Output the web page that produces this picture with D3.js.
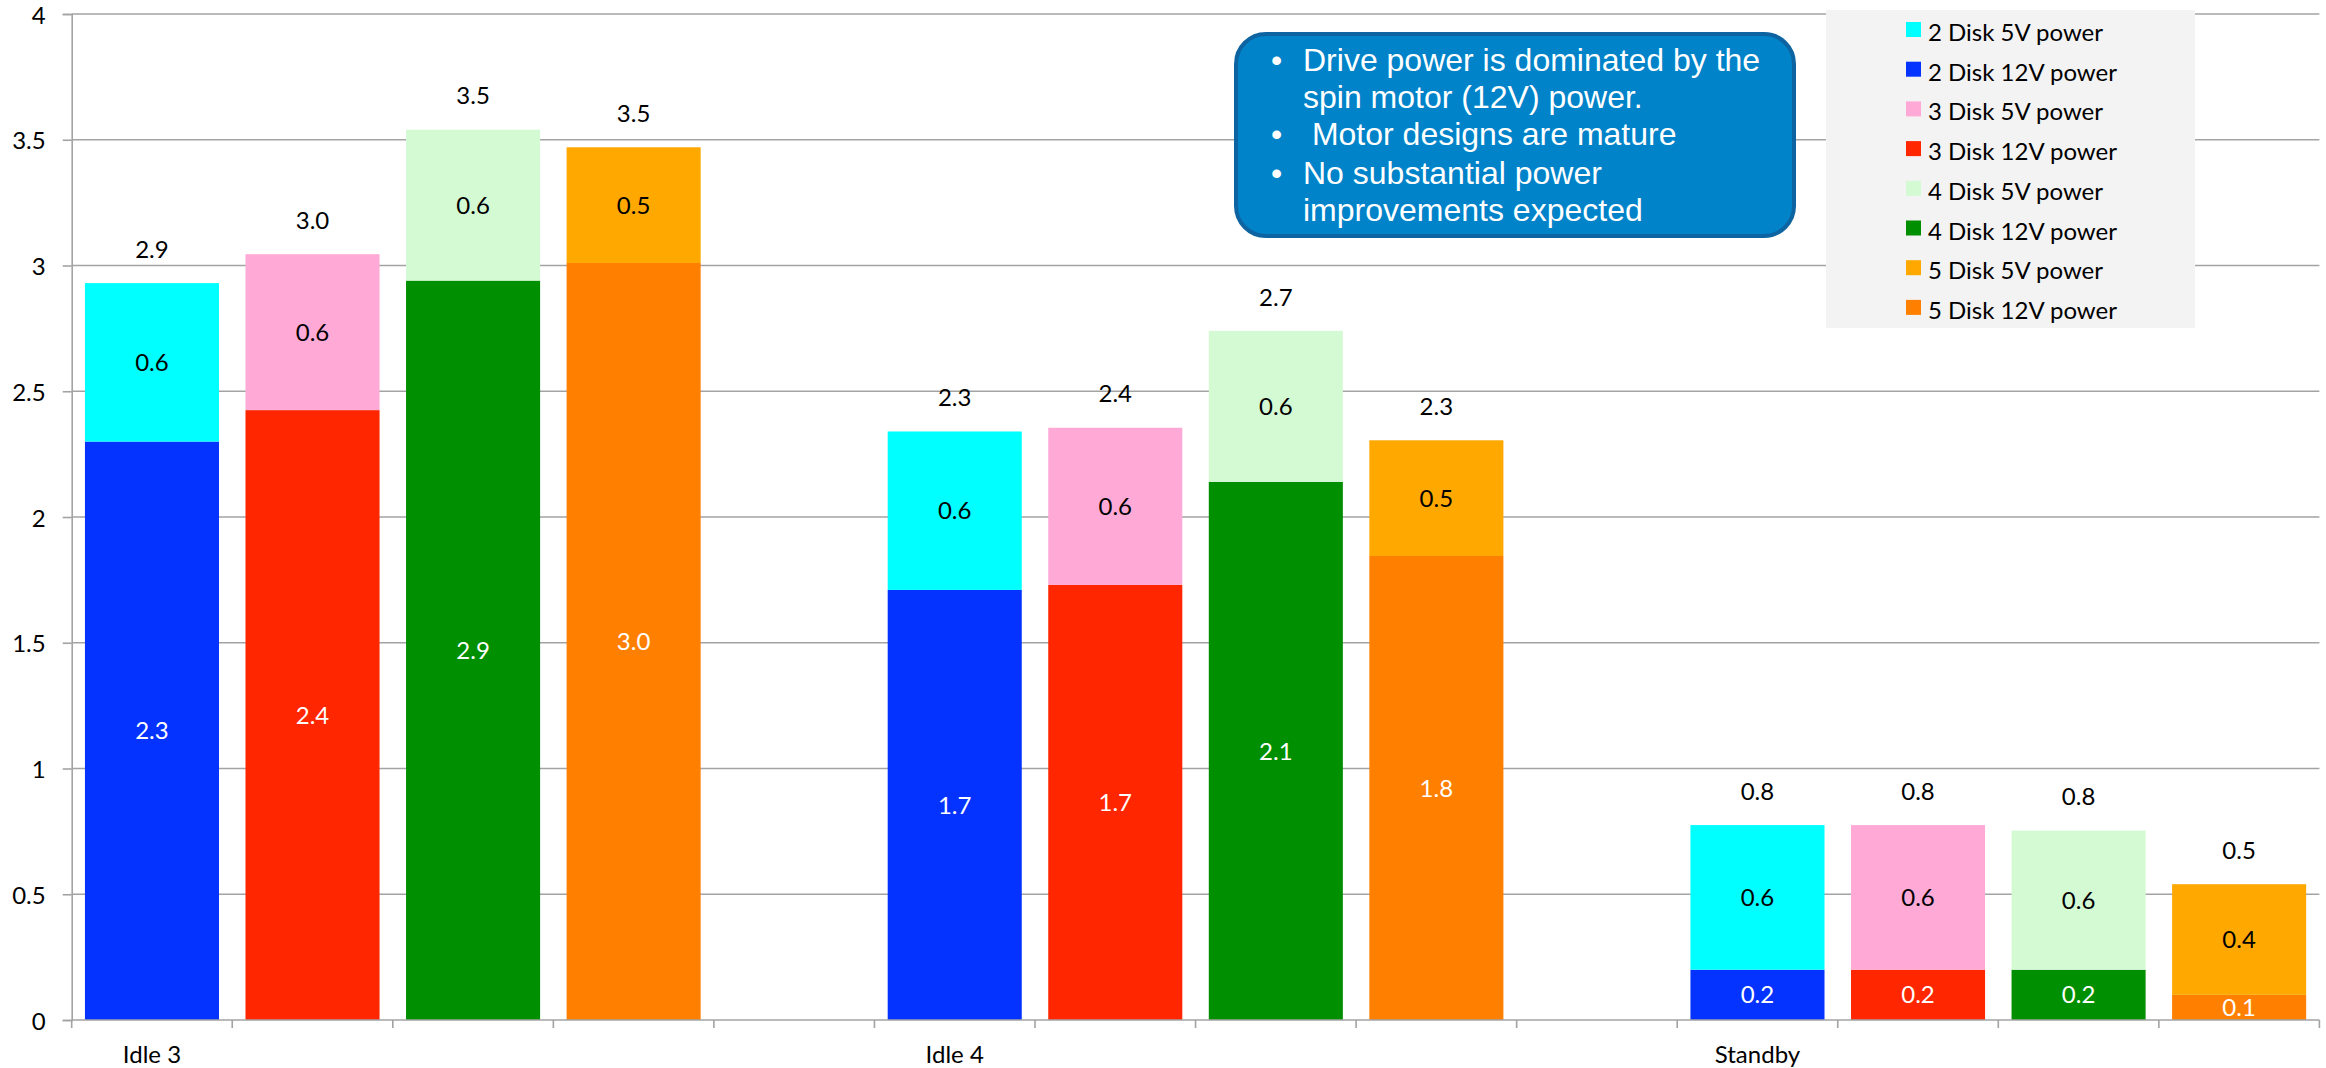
<!DOCTYPE html>
<html>
<head>
<meta charset="utf-8">
<script src="https://cdn.jsdelivr.net/npm/d3@7"></script>
<style>
  html, body { margin: 0; padding: 0; background: #ffffff; }
  svg { display: block; }
  .lato { font-family: Lato, "Open Sans", sans-serif; }
  .arial { font-family: "Liberation Sans", Arial, sans-serif; }
</style>
</head>
<body>
<svg id="chart" width="2326" height="1068"></svg>
<script>
// ---------------- data ----------------
const states = ["Idle 3", "Idle 4", "Standby"];
const disks = ["2 Disk", "3 Disk", "4 Disk", "5 Disk"];

// 12V (spin motor) power per state, for each disk count
const disk2_12V = [2.30, 1.71, 0.20];
const disk3_12V = [2.425, 1.73, 0.20];
const disk4_12V = [2.94, 2.14, 0.20];
const disk5_12V = [3.01, 1.845, 0.10];

// 5V (electronics) power per state, for each disk count
const disk2_5V = [0.63, 0.63, 0.575];
const disk3_5V = [0.62, 0.625, 0.575];
const disk4_5V = [0.60, 0.60, 0.553];
const disk5_5V = [0.46, 0.46, 0.44];

const legendLabels = [
  "2 Disk 5V power", "2 Disk 12V power",
  "3 Disk 5V power", "3 Disk 12V power",
  "4 Disk 5V power", "4 Disk 12V power",
  "5 Disk 5V power", "5 Disk 12V power"
];
const yTicks = [0, 0.5, 1, 1.5, 2, 2.5, 3, 3.5, 4];
const calloutLines = [
  { bullet: true,  text: "Drive power is dominated by the" },
  { bullet: false, text: "spin motor (12V) power." },
  { bullet: true,  text: " Motor designs are mature" },
  { bullet: true,  text: "No substantial power" },
  { bullet: false, text: "improvements expected" }
];

// ---------------- styles ----------------
const colors12V = ["#0433FF", "#FF2600", "#008F00", "#FF7F00"];
const colors5V  = ["#00FFFF", "#FFAAD6", "#D4FAD4", "#FFA800"];
const legendColors = [colors5V[0], colors12V[0], colors5V[1], colors12V[1],
                      colors5V[2], colors12V[2], colors5V[3], colors12V[3]];

const v12 = [disk2_12V, disk3_12V, disk4_12V, disk5_12V];
const v5  = [disk2_5V, disk3_5V, disk4_5V, disk5_5V];

// slots: 4 bars per state + a blank spacer (except after last)
const slots = [];
states.forEach((s, si) => {
  disks.forEach((d, di) => slots.push({ key: s + "|" + d, state: s, si, di, label: di === 0 ? s : "" }));
  if (si < states.length - 1) slots.push({ key: s + "|gap", state: s, si, di: -1, label: "" });
});

const svg = d3.select("#chart");
const pLeft = 71.7, pRight = 2319.4, pTop = 14, pBottom = 1020;

const xOuter = d3.scaleBand().domain(slots.map(d => d.key)).range([pLeft, pRight]).padding(0);
const xBar = d3.scaleBand().domain(slots.map(d => d.key)).range([pLeft, pRight])
  .paddingInner(0.165).paddingOuter(0.0825);
const y = d3.scaleLinear().domain([0, 4]).range([pBottom, pTop]);

const fmt = d3.format(".1f");

// gridlines
svg.append("g").selectAll("line").data(yTicks.filter(t => t > 0)).join("line")
  .attr("x1", pLeft).attr("x2", pRight)
  .attr("y1", d => y(d)).attr("y2", d => y(d))
  .attr("stroke", "#a3a3a3").attr("stroke-width", 1.6);

// y axis
const yAxis = svg.append("g").attr("transform", `translate(${pLeft},0)`)
  .call(d3.axisLeft(y).tickValues(yTicks).tickSize(9).tickPadding(17).tickFormat(d => String(d)));
yAxis.select(".domain").attr("stroke", "#a3a3a3").attr("stroke-width", 1.6);
yAxis.selectAll(".tick line").attr("stroke", "#a3a3a3").attr("stroke-width", 1.6);
yAxis.selectAll(".tick text").attr("class", "lato").attr("font-size", 24).attr("fill", "#000").attr("dy", "0.38em");
yAxis.attr("font-family", null);

// bars
const barData = slots.filter(s => s.di >= 0);
const gBars = svg.append("g").attr("class", "lato");
barData.forEach(s => {
  const a = v12[s.di][s.si], b = v5[s.di][s.si];
  const x0 = xBar(s.key), w = xBar.bandwidth();
  gBars.append("rect").attr("x", x0).attr("width", w)
    .attr("y", y(a)).attr("height", y(0) - y(a)).attr("fill", colors12V[s.di]);
  gBars.append("rect").attr("x", x0).attr("width", w)
    .attr("y", y(a + b)).attr("height", y(a) - y(a + b)).attr("fill", colors5V[s.di]);
  const cx = x0 + w / 2;
  gBars.append("text").attr("x", cx).attr("y", (y(0) + y(a)) / 2).attr("dy", "0.36em")
    .attr("text-anchor", "middle").attr("font-size", 24).attr("fill", "#fff").text(fmt(a));
  gBars.append("text").attr("x", cx).attr("y", (y(a) + y(a + b)) / 2).attr("dy", "0.36em")
    .attr("text-anchor", "middle").attr("font-size", 24).attr("fill", "#000").text(fmt(b));
  gBars.append("text").attr("x", cx).attr("y", y(a + b) - 34).attr("dy", "0.36em")
    .attr("text-anchor", "middle").attr("font-size", 24).attr("fill", "#000").text(fmt(a + b));
});

// x axis
const gx = svg.append("g").attr("class", "lato");
gx.append("line").attr("x1", pLeft).attr("x2", pRight).attr("y1", pBottom).attr("y2", pBottom)
  .attr("stroke", "#a3a3a3").attr("stroke-width", 1.6);
const boundaries = slots.map(s => xOuter(s.key)).concat([pRight]);
gx.selectAll("line.tk").data(boundaries).join("line").attr("class", "tk")
  .attr("x1", d => d).attr("x2", d => d).attr("y1", pBottom).attr("y2", pBottom + 8)
  .attr("stroke", "#a3a3a3").attr("stroke-width", 1.6);
gx.selectAll("text").data(slots.filter(s => s.label)).join("text")
  .attr("x", d => xOuter(d.key) + xOuter.bandwidth() / 2).attr("y", 1063)
  .attr("text-anchor", "middle").attr("font-size", 24).attr("fill", "#000")
  .text(d => d.label);

// legend
const lg = svg.append("g").attr("class", "lato");
lg.append("rect").attr("x", 1826).attr("y", 10).attr("width", 369).attr("height", 318).attr("fill", "#f3f3f3");
legendLabels.forEach((l, i) => {
  lg.append("rect").attr("x", 1906).attr("y", 22 + i * 39.7).attr("width", 15).attr("height", 15)
    .attr("fill", legendColors[i]);
  lg.append("text").attr("x", 1928).attr("y", 41 + i * 39.7).attr("font-size", 24).attr("fill", "#000").text(l);
});

// callout
const cg = svg.append("g").attr("class", "arial");
cg.append("rect").attr("x", 1236).attr("y", 34).attr("width", 558).attr("height", 202)
  .attr("rx", 30).attr("ry", 30).attr("fill", "#0083C9").attr("stroke", "#0D64A0").attr("stroke-width", 4);
const baselines = [71, 108, 145, 184, 221];
calloutLines.forEach((ln, i) => {
  if (ln.bullet) {
    cg.append("text").attr("x", 1271).attr("y", baselines[i])
      .attr("font-size", 32).attr("fill", "#fff").text("•");
  }
  cg.append("text").attr("x", 1303).attr("y", baselines[i])
    .attr("font-size", 32).attr("fill", "#fff").style("white-space", "pre").text(ln.text);
});
</script>
</body>
</html>
